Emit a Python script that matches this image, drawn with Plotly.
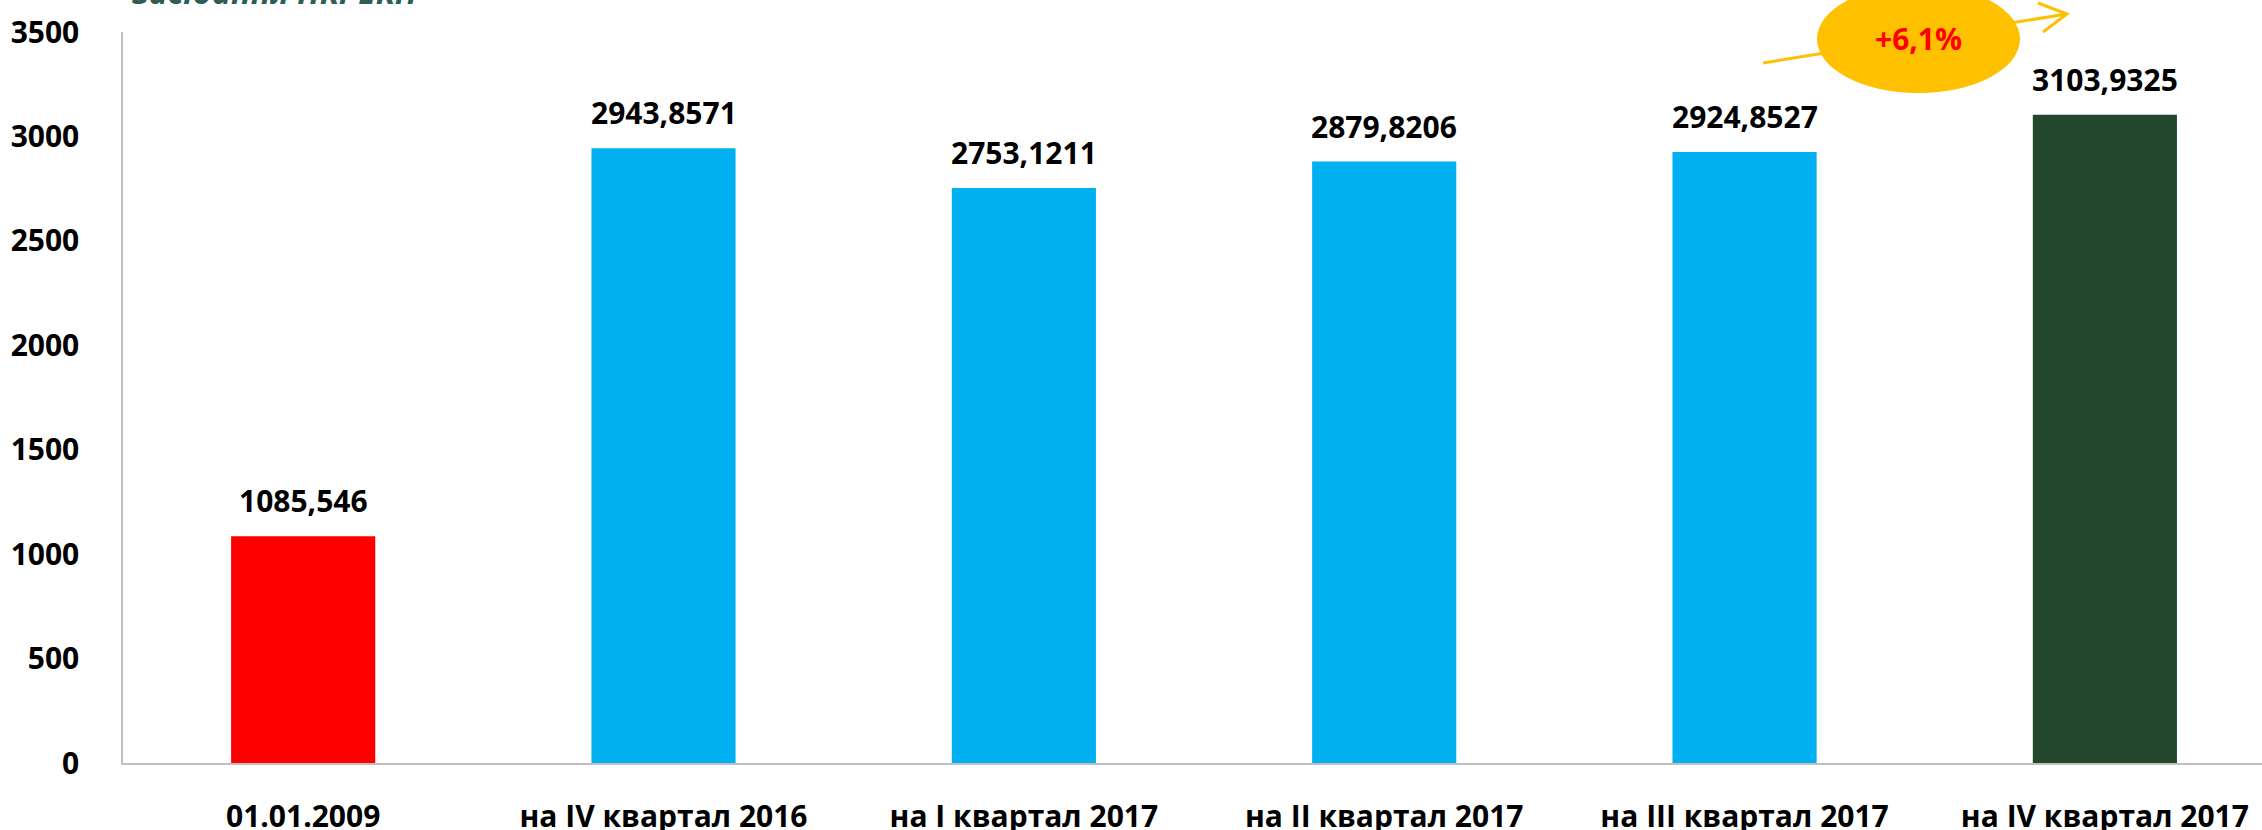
import plotly.graph_objects as go

# дані з діаграми
categories = ["01.01.2009", "на IV квартал 2016", "на I квартал 2017",
              "на II квартал 2017", "на III квартал 2017", "на IV квартал 2017"]
values = [1085.546, 2943.8571, 2753.1211, 2879.8206, 2924.8527, 3103.9325]
value_labels = ["1085,546", "2943,8571", "2753,1211", "2879,8206", "2924,8527", "3103,9325"]
bar_colors = ["#FF0000", "#00B0F0", "#00B0F0", "#00B0F0", "#00B0F0", "#23472C"]
y_ticks = [0, 500, 1000, 1500, 2000, 2500, 3000, 3500]
growth_label = "+6,1%"
title_tail = "засідання НКРЕКП"

W, H = 2262, 830
L, R, T, B = 123, 0, 32, 67
FONT = "Open Sans"


def px(x):
    return (x - L) / (W - L - R)


def py(y):
    return (H - B - y) / (H - T - B)


fig = go.Figure()
fig.add_trace(go.Bar(
    x=categories,
    y=values,
    marker=dict(color=bar_colors, line=dict(width=0)),
    width=0.4,
    hoverinfo="x+y",
))

# підписи значень над стовпцями
for cat, val, lab in zip(categories, values, value_labels):
    fig.add_annotation(x=cat, y=val, text=f"<b>{lab}</b>", showarrow=False,
                       xanchor="center", yanchor="bottom", yshift=13,
                       font=dict(family=FONT, size=30, color="#000000"))

# стрілка зростання + еліпс
ax0, ay0, ax1, ay1 = 1763, 63, 2067, 14
path = (f"M {px(ax0)} {py(ay0)} L {px(ax1)} {py(ay1)} "
        f"M {px(2038)} {py(3)} L {px(ax1)} {py(ay1)} L {px(2043)} {py(32)}")
fig.add_shape(type="path", xref="paper", yref="paper", path=path,
              line=dict(color="#FFC000", width=3))
fig.add_shape(type="circle", xref="paper", yref="paper",
              x0=px(1817), x1=px(2020), y0=py(93), y1=py(-15),
              fillcolor="#FFC000", line=dict(width=0))
fig.add_annotation(x=px(1918), y=py(39), xref="paper", yref="paper",
                   xanchor="center", yanchor="middle",
                   text=f"<b>{growth_label}</b>", showarrow=False,
                   font=dict(family=FONT, size=30, color="#FF0000"))

# обрізаний заголовок угорі
fig.add_annotation(x=px(130), y=1, xref="paper", yref="paper", xanchor="left",
                   yanchor="bottom", yshift=17, showarrow=False,
                   text=f"<b><i>{title_tail}</i></b>",
                   font=dict(family=FONT, size=32, color="#2D5D57"))

fig.update_layout(
    width=W, height=H,
    margin=dict(l=L, r=R, t=T, b=B),
    paper_bgcolor="white", plot_bgcolor="white",
    showlegend=False,
    bargap=0.6,
)
fig.update_xaxes(
    type="category", range=[-0.5, 5.436],
    showline=True, linecolor="#BFBFBF", linewidth=2,
    showgrid=False, ticks="", ticklabelstandoff=26,
    tickfont=dict(family=FONT, size=30, color="#000000", weight="bold"),
    automargin=False,
)
fig.update_yaxes(
    range=[0, 3500], tickvals=y_ticks,
    showline=True, linecolor="#BFBFBF", linewidth=1.5,
    showgrid=False, zeroline=False, ticks="", ticklabelstandoff=36,
    tickfont=dict(family=FONT, size=30, color="#000000", weight="bold"),
    automargin=False,
)

# прибрати стандартний відступ body, щоб полотно стояло в куті
fig.write_html("out.html", config={"displayModeBar": False},
               post_script="document.body.style.margin='0';")
